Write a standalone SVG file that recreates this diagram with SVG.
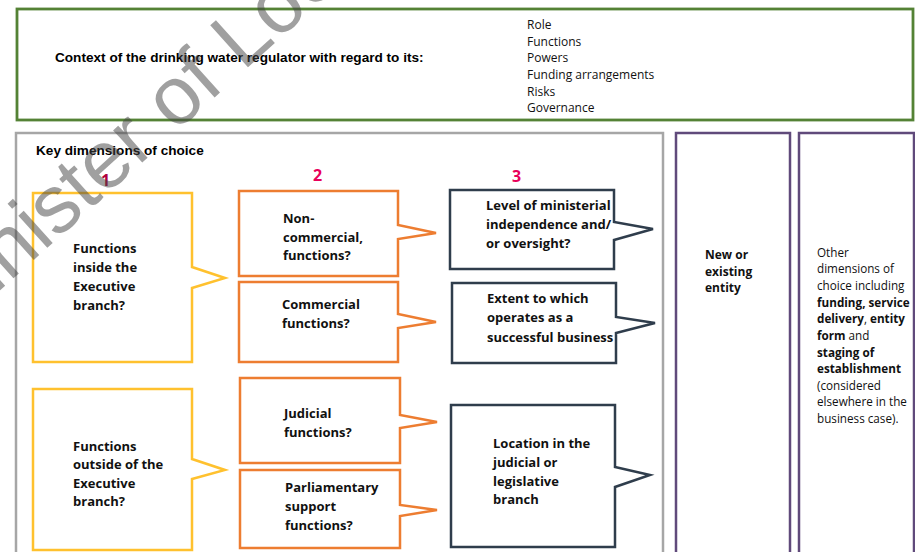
<svg xmlns="http://www.w3.org/2000/svg" width="915" height="552" viewBox="0 0 915 552">
<style>
.ar{font-family:"Liberation Sans",Arial,sans-serif;font-weight:bold;font-size:13.6px;fill:#000}
.cb{font-family:"Open Sans","Noto Sans",sans-serif;font-weight:bold;font-size:13px;fill:#111}
.cr{font-family:"Open Sans","Noto Sans",sans-serif;font-size:12px;fill:#111}
.cr2{font-family:"Open Sans","Noto Sans",sans-serif;font-size:11.7px;fill:#111}
.b{font-weight:bold}
.num{font-family:"Open Sans","Noto Sans",sans-serif;font-weight:bold;font-size:16px}
.y{fill:#fff;stroke:#ffc12e;stroke-width:2.5}
.o{fill:#fff;stroke:#ed7d31;stroke-width:2.5}
.d{fill:#fff;stroke:#2f3d4c;stroke-width:2.5}
.p{fill:#fff;stroke:#604a7b;stroke-width:2.5}
</style>
<rect width="915" height="552" fill="#fff"/>
<g id="context">
<rect x="17" y="9" width="896" height="111" fill="#fff" stroke="#548235" stroke-width="2.8"/>
<text class="ar" x="55" y="62">Context of the drinking water regulator with regard to its:</text>
<text class="cr"><tspan x="527" y="29">Role</tspan><tspan x="527" y="46">Functions</tspan><tspan x="527" y="62">Powers</tspan><tspan x="527" y="79">Funding arrangements</tspan><tspan x="527" y="96">Risks</tspan><tspan x="527" y="112">Governance</tspan></text>
</g>
<g id="key-dimensions">
<rect x="16" y="133" width="647" height="430" fill="#fff" stroke="#a6a6a6" stroke-width="2.5"/>
<text class="ar" x="36" y="155">Key dimensions of choice</text>
<text class="num" x="101" y="186" fill="#b0003c">1</text>
<text class="num" x="313" y="181" fill="#e8005a">2</text>
<text class="num" x="512" y="182" fill="#e8005a">3</text>
</g>
<g id="inside-executive">
<path class="y" d="M33,193 H192 V267 L225,278 L192,288 V362 H33 Z"/>
<text class="cb"><tspan x="73" y="253">Functions</tspan><tspan x="73" y="272">inside the</tspan><tspan x="73" y="291">Executive</tspan><tspan x="73" y="310">branch?</tspan></text>
</g>
<g id="outside-executive">
<path class="y" d="M33,389 H192 V459 L225,470 L192,479 V550 H33 Z"/>
<text class="cb"><tspan x="73" y="451">Functions</tspan><tspan x="73" y="469">outside of the</tspan><tspan x="73" y="488">Executive</tspan><tspan x="73" y="506">branch?</tspan></text>
</g>
<g id="non-commercial">
<path class="o" d="M239,191 H398 V225 L436,233 L398,239 V276 H239 Z"/>
<text class="cb"><tspan x="283" y="223">Non-</tspan><tspan x="283" y="242">commercial,</tspan><tspan x="283" y="260">functions?</tspan></text>
</g>
<g id="commercial">
<path class="o" d="M239,282 H398 V314 L436,322 L398,328 V362 H239 Z"/>
<text class="cb"><tspan x="282" y="309">Commercial</tspan><tspan x="282" y="328">functions?</tspan></text>
</g>
<g id="judicial">
<path class="o" d="M240,378 H400 V415 L437,422 L400,428 V463 H240 Z"/>
<text class="cb"><tspan x="284" y="418">Judicial</tspan><tspan x="284" y="437">functions?</tspan></text>
</g>
<g id="parliamentary">
<path class="o" d="M240,470 H400 V505 L437,510 L400,516 V548 H240 Z"/>
<text class="cb"><tspan x="285" y="492">Parliamentary</tspan><tspan x="285" y="511">support</tspan><tspan x="285" y="530">functions?</tspan></text>
</g>
<g id="ministerial">
<path class="d" d="M450,190 H614 V222 L653,229 L614,240 V269 H450 Z"/>
<text class="cb"><tspan x="486" y="210">Level of ministerial</tspan><tspan x="486" y="229">independence and/</tspan><tspan x="486" y="248">or oversight?</tspan></text>
</g>
<g id="business">
<path class="d" d="M452,283 H616 V317 L655,323 L616,333 V363 H452 Z"/>
<text class="cb"><tspan x="487" y="303">Extent to which</tspan><tspan x="487" y="322">operates as a</tspan><tspan x="487" y="342">successful business</tspan></text>
</g>
<g id="location">
<path class="d" d="M451,405 H615 V467 L650,475 L615,487 V547 H451 Z"/>
<text class="cb"><tspan x="493" y="448">Location in the</tspan><tspan x="493" y="467">judicial or</tspan><tspan x="493" y="486">legislative</tspan><tspan x="493" y="504">branch</tspan></text>
</g>
<g id="new-entity">
<rect class="p" x="676" y="133" width="114" height="430"/>
<text class="cb" style="font-size:12px"><tspan x="705" y="259">New or</tspan><tspan x="705" y="276">existing</tspan><tspan x="705" y="292">entity</tspan></text>
</g>
<g id="other-dimensions">
<rect class="p" x="799" y="133" width="115" height="430"/>
<text class="cr2"><tspan x="817" y="257">Other</tspan><tspan x="817" y="273">dimensions of</tspan><tspan x="817" y="290">choice including</tspan><tspan x="817" y="307" class="b">funding, service</tspan><tspan x="817" y="323"><tspan class="b">delivery</tspan>, <tspan class="b">entity</tspan></tspan><tspan x="817" y="340"><tspan class="b">form</tspan> and</tspan><tspan x="817" y="357" class="b">staging of</tspan><tspan x="817" y="373" class="b">establishment</tspan><tspan x="817" y="390">(considered</tspan><tspan x="817" y="406">elsewhere in the</tspan><tspan x="817" y="423">business case).</tspan></text>
</g>
<g id="watermark" opacity="0.5">
<text transform="translate(-55,340) rotate(-42)" font-family="Liberation Sans, Arial, sans-serif" font-size="82" fill="#444">Minister of Local</text>
</g>
</svg>
